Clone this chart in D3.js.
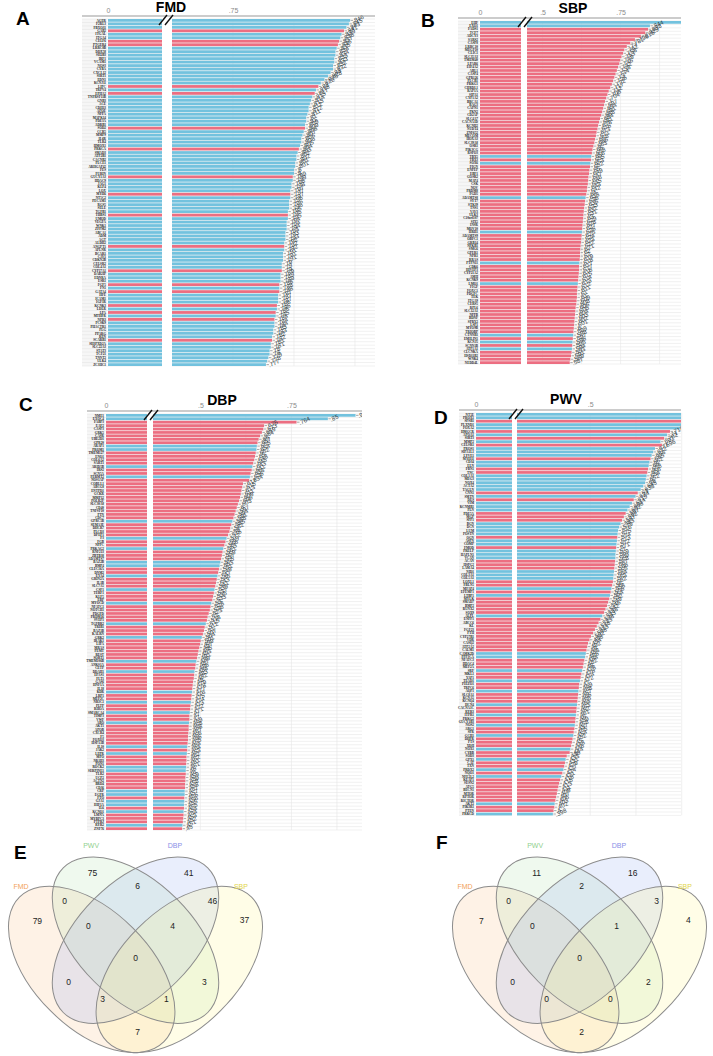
<!DOCTYPE html>
<html><head><meta charset="utf-8">
<script src="https://cdn.jsdelivr.net/npm/d3@7"></script>
<style>
body{margin:0;background:#fff}
svg{display:block}
</style></head><body>
<svg id="fig" width="713" height="1056"></svg>
<script>
// ---------- data: bar panels ----------
var genesA = "AGER F2RL3 FBXO31 GAB2 ITGAL ITGA4 CELF6 PTGER4 LRRC8B DDX58 SH2B3 IRF1 VCAM1 NOS3 CYBA CXCL12 SIRT1 EDN1 KCNJ11 LIPC TRPV4 EPHA2 TNFRSF11B GNB3 ACE CDH13 APOE NPPA MAPK14 PDE3A ADRB1 SOD2 CCR5 MMP9 IL6R TLR4 HMOX1 PRKCA SMAD3 ATP2B1 CACNB2 PLCE1 ARHGAP42 FES FURIN GUCY1A3 HDAC9 JAG1 KLF4 LOX MYH6 NT5C2 PECAM1 RGS5 SELE TGFB1 THBS1 UMOD VEGFA WNK1 ZFPM2 ABCA1 ADM AGT ALDH2 ANGPT1 APLNR BCAR1 CAV1 CDKN2B CELSR2 COL4A1 CYP17A1 DAB2IP EDNRA ESR1 FGF5 FN1 GATA4 HFE ICAM1 IGF1R KCNK3 LDLR LPA MTHFR NPR3 PCSK9 PHACTR1 PLG PPARG REN SCARB1 SH3PXD2A SLC22A3 STAT3 TCF21 TNNT2 ULK4 ZC3HC1".split(" ");
var valuesA = [
  .846,.845,.843,.841,.839,.838,.837,.836,.835,.834,
  .834,.833,.833,.832,.832,.830,.828,.825,.822,.820,
  .818,.817,.815,.814,.813,.812,.812,.811,.810,.810,
  .809,.809,.808,.807,.806,.806,.805,.804,.803,.802,
  .802,.801,.801,.800,.800,.799,.799,.798,.798,.797,
  .797,.797,.796,.796,.796,.795,.795,.795,.794,.794,
  .794,.793,.793,.793,.792,.792,.792,.791,.791,.791,
  .790,.790,.790,.789,.789,.789,.788,.788,.788,.787,
  .787,.787,.786,.786,.785,.785,.784,.784,.784,.783,
  .783,.782,.782,.781,.781,.780,.780,.779,.778,.777];
var colorsA = ("bbbrbbrrbb" + "bbbbbbbbbr" + "brbbbbbbbb" + "brbbbbbrbb" + "bbbbbrbbbb" +
               "rbbbbbrbbb" + "bbbbbrbbbb" + "bbrbbbrbrb" + "bbrbrbrbbb" + "bbrbbbbbbb").split("");

var genesB = "EHF EXO1 FADS1 TCF7 ADCY3 SARS2 CASP8 LRRC10 MEGF10 CLIC1 SLC35A3 TMEM40 LPAR6 EIF4A2 ABL1 CASP4 GPR126 PLCB1 PRKG1 CHRDL1 RAP1A SIPA1 CYP1A2 BRCA1 BAG3 CAPN1 PKN2 CD2AP SLC4A7 CACNA1D KCNH2 NUDT4 ZNF652 MECOM HOXA3 SLC39A8 OSR1 PIK3CG RSPO3 TBX5 TBX3 SOX6 FIGN ENPEP EBF1 GOSR2 MAP4 CSK NOV PRDM8 FGD5 ADAMTS8 SYT7 STK39 TNS1 VAV3 ULK3 C10orf107 SIX5 INSR MOV10 HRH1 ADAMTS9 OBFC1 GRB14 NFKB1 SMG6 GPER1 NPR1 RRAS PTPN11 CDK6 HIVEP3 CYP21A2 AMH KCNK9 LMO1 FIGF FOXC1 PDGFC TEK ITGA9 CERS5 RPL6 SLC12A1 NPPB BDNF SPRY2 LSP1 MYO9B TRIOBP CTNNB1 EMILIN1 KCNJ5 SCNN1B ATP1A1 CLCNKA HSD11B2 WNK4 NEDD4L".split(" ");
var valuesB = [
  .948,.844,.838,.829,.815,.796,.781,.770,.762,.758,
  .753,.749,.746,.742,.738,.734,.730,.726,.722,.717,
  .712,.708,.704,.700,.697,.694,.691,.688,.684,.681,
  .678,.676,.673,.671,.668,.666,.663,.660,.658,.656,
  .655,.653,.652,.650,.649,.647,.646,.645,.643,.642,
  .640,.638,.636,.635,.633,.632,.631,.630,.629,.628,
  .627,.626,.625,.624,.623,.622,.621,.620,.620,.619,
  .618,.617,.617,.616,.615,.614,.613,.612,.611,.610,
  .610,.609,.608,.606,.605,.604,.603,.602,.601,.600,
  .599,.598,.597,.596,.595,.594,.593,.591,.589,.587];
var colorsB = ("bbrrrrrrrr" + "rrrrrrrrrr" + "rrrrrrrrrr" + "rrrrrrrrrb" + "rbrrrrrrrr" +
               "rbrrrrrrrr" + "rbrrrrrrrr" + "brrrrrbrrr" + "rrrrrrrrrr" + "rbrbrbrrrr").split("");

var genesC = "NME1 EXOC4 FABP3 EAF2 CASP3 GRK5 CASR UBE2D1 GPR20 ARAP1 PROM1 TMEM127 ENO1 COL6A2 SART1 ARID5B IRS2 SCN5A FERMT2 NOS1AP COBLL1 ABCG8 ENTPD1 GCKR MMP12 POLR2F SLC30A8 CD40 TNFSF10 PTN CDC7 GPRC5B SEMA3E DHCR7 PLCD3 DPEP1 F3 FGB NPPC PRKAG2 RNF213 ZBTB38 ADAMTS7 BAZ2B BMP4 CLEC16A DNM2 EYA4 GRIN2A IL1B SLC7A5 CSF1 TERF1 KLF5 EBP MYOCD NFATC1 NOTCH1 PDGFD PRDM16 SVEP1 TGFBR2 TRIB1 BAZ1B KALRN GRK2 IRAK1 LIPA MRAS PEMT REST SORT1 TMEM106B ANKS1A CETP DDAH1 EPAS1 FLT1 GAS6 HNF1A IL18 KDR LRP1 MEF2C NR3C1 PLTP RHOA SMARCA4 TIMP3 VWF ABO AKT1 APOB CXCR4 F5 FOXO3 HSPA1B IL10 JAK2 LEPR MPO NR1H3 PON1 ROCK2 SERPINE1 TLR2 UCP2 ACTN2 BRD4 CD36 CRP EGFR FTO GJA1 HIF1A IL6 KCNQ1 LMNA MYBPC3 PTPRJ RYR2 ZNF76".split(" ");
var valuesC = [
  .926,.850,.764,.675,.673,.669,.664,.660,.657,.655,
  .654,.652,.650,.648,.645,.643,.641,.638,.636,.634,
  .617,.615,.613,.611,.609,.606,.603,.600,.597,.594,
  .591,.588,.585,.582,.580,.576,.572,.569,.566,.563,
  .561,.559,.557,.555,.553,.551,.549,.547,.545,.543,
  .541,.539,.537,.535,.533,.530,.528,.526,.523,.520,
  .518,.515,.512,.510,.507,.504,.501,.499,.497,.495,
  .493,.491,.489,.487,.486,.484,.483,.482,.480,.479,
  .478,.477,.476,.475,.474,.473,.472,.471,.470,.470,
  .469,.468,.468,.467,.466,.466,.465,.464,.464,.463,
  .462,.462,.461,.461,.460,.460,.459,.459,.458,.458,
  .457,.457,.456,.456,.455,.455,.454,.454,.453,.452,.451,.450];
var colorsC = ("bbrrrrrrrb" + "brrrrbrrbr" + "rrrrrrrrrr" + "rbrrrrbrrb" + "rrrbbrrbrr" +
               "rbrrrbrrrr" + "rbrrrbrrrr" + "rrbrrbrrrr" + "rbrrbrrbrr" + "brrrrrrbrb" +
               "rrrbbrrrrr" + "bbrbbrbrrr" + "br").split("");

var genesD = "NT5E PROX1 SPSB1 PLXND1 FOXA2 HMGCR APOA1 SIRT3 MMP2 CELSR1 PROS1 SIPA1L1 LYVE1 MYH11 CD34 ELN FBN1 TNC COL1A1 MEG3 NOX4 ACTA2 TAGLN CNN1 SMTN DES VIM KCNMB1 PLN PDE5A MGP SPP1 BGN DCN LUM POSTN OGN ASPN COMP FMOD PRELP HAPLN1 VCAN ACAN HSPG2 LAMA4 NID1 COL3A1 COL5A1 LOXL1 FBLN5 MFAP4 EFEMP1 LTBP1 MYLK SMAD7 BMP2 RUNX2 SOX9 ALPL ENPP1 ABCC6 KL FGF23 PTH CYP27B1 VDR CASQ2 ATP2A2 CALM1 CAMK2D PPP3CA NFATC3 HDAC4 MEF2A SRF MKL1 YAP1 TEAD1 PIEZO1 TRPC6 AQP1 SLC8A1 KCNA5 KCNQ4 HCN4 CACNA1C RYR3 ITPR1 PRKG2 GUCY1B3 NOS2 ARG1 SPR GCH1 DHFR PTS XDH NOX1 CYBB SOD3 GPX1 CAT TXN PRDX2 NQO1 NFE2L2 KEAP1 SESN2 ATG5 BECN1 MTOR RPTOR RICTOR AKT2 PIK3R1 PTEN PRKCD".split(" ");
var valuesD = [
  .912,.874,.853,.801,.745,.718,.710,.702,.692,.696,
  .677,.672,.668,.665,.662,.660,.658,.656,.654,.652,
  .650,.645,.638,.630,.624,.619,.614,.608,.602,.597,
  .592,.587,.583,.579,.576,.575,.574,.573,.572,.571,
  .570,.569,.569,.568,.567,.566,.565,.564,.563,.562,
  .560,.558,.556,.554,.552,.549,.546,.542,.538,.533,
  .528,.523,.518,.513,.508,.502,.498,.494,.492,.490,
  .488,.486,.484,.482,.480,.478,.476,.474,.472,.470,
  .469,.468,.467,.466,.465,.464,.463,.462,.461,.460,
  .459,.458,.457,.455,.454,.452,.450,.448,.446,.444,
  .436,.433,.431,.429,.427,.424,.421,.418,.415,.413,
  .411,.409,.407,.405,.403,.402,.400,.398];
var colorsD = ("bbrbbrbrbr" + "bbbrbbrrbb" + "bbbrbrbbbr" + "rr" + "bb" +
               "bbrbbrbbbr" + "rrbbbrrbrb" + "rrrrrbrrrr" + "rrrrr" +
               "rbbrrrbrrb" + "rrbrrrbrrb" + "rrbrrbrrrb" + "r" +
               "rbrrbrbrrrrrrrbrrb").split("");

var ticksA = [0, 0.75], ticksB = [0, 0.5, 0.75], ticksC = [0, 0.5, 0.75], ticksD = [0, 0.5];
var gridA = [0.75, 0.8, 0.85], gridB = [0.5, 0.625, 0.75, 0.875], gridC = [0.5, 0.625, 0.75, 0.875], gridD = [0.5, 0.625, 0.75];

// ---------- data: venn ----------
var vennSets = ["FMD", "PWV", "DBP", "SBP"];
var vennRegions = ["FMD", "PWV", "DBP", "SBP", "FMD&PWV", "PWV&DBP", "DBP&SBP", "FMD&SBP",
                   "FMD&DBP", "PWV&SBP", "FMD&PWV&DBP", "PWV&DBP&SBP", "FMD&DBP&SBP", "FMD&PWV&SBP", "ALL"];
var vennE = [79, 75, 41, 37, 0, 6, 46, 7, 0, 3, 0, 4, 3, 1, 0];
var vennF = [7, 11, 16, 4, 0, 2, 3, 2, 0, 2, 0, 1, 0, 0, 0];

// ---------- layout ----------
var BLUE = "#73c2de", RED = "#ec6e81";
var FONT = "Liberation Sans, Arial, sans-serif";
var svg = d3.select("#fig");

var panels = [
  {letter: "A", title: "FMD", genes: genesA, values: valuesA, colors: colorsA, ticks: ticksA, grid: gridA,
   lx: 82, x0: 108, bl: 162, br: 172, right: 375, axisY: 16, top: 19, rowH: 3.47,
   domain: [0.70, 0.85], xEnd: 355, letterX: 16, letterY: 25, titleX: 171, titleY: 12},
  {letter: "B", title: "SBP", genes: genesB, values: valuesB, colors: colorsB, ticks: ticksB, grid: gridB,
   lx: 458, x0: 480, bl: 521, br: 527, right: 681, axisY: 18, top: 21, rowH: 3.43,
   domain: [0.45, 0.95], xEnd: 683, letterX: 421, letterY: 27, titleX: 573, titleY: 13},
  {letter: "C", title: "DBP", genes: genesC, values: valuesC, colors: colorsC, ticks: ticksC, grid: gridC,
   lx: 87, x0: 106, bl: 147, br: 153, right: 362, axisY: 411, top: 414, rowH: 3.41,
   domain: [0.37, 0.93], xEnd: 357, letterX: 19, letterY: 411, titleX: 222, titleY: 405},
  {letter: "D", title: "PWV", genes: genesD, values: valuesD, colors: colorsD, ticks: ticksD, grid: gridD,
   lx: 459, x0: 476, bl: 512, br: 517, right: 681, axisY: 410, top: 413, rowH: 3.41,
   domain: [0.30, 0.80], xEnd: 700, letterX: 434, letterY: 424, titleX: 566, titleY: 404}
];

var tickFmt = function(t) { return t === 0 ? "0" : d3.format(".2~f")(t).replace(/^0/, ""); };
var valFmt = function(v) { return d3.format(".3~f")(v).replace(/^0/, ""); };

panels.forEach(function(p, pi) {
  var n = p.values.length;
  var bottom = p.top + n * p.rowH;
  var data = p.values.map(function(v, i) {
    return {gene: p.genes[i] || "", value: v, color: p.colors[i] === "r" ? RED : BLUE, i: i};
  });

  var xL = d3.scaleLinear().domain([0, p.domain[0]]).range([p.x0, p.bl]);
  var xR = d3.scaleLinear().domain(p.domain).range([p.br, p.xEnd]);
  var y = d3.scaleBand().domain(d3.range(n)).range([p.top, bottom]).paddingInner(0.2);

  var g = svg.append("g");
  var clipId = "clip" + pi;
  svg.append("clipPath").attr("id", clipId)
    .append("rect").attr("x", p.lx).attr("y", p.axisY - 12).attr("width", p.right - p.lx).attr("height", bottom - p.axisY + 14);

  // label column background
  g.append("rect").attr("x", p.lx).attr("y", p.top).attr("width", p.x0 - p.lx - 1).attr("height", bottom - p.top)
    .attr("fill", "#f6f6f6");

  // row separators
  g.append("g").selectAll("line").data(d3.range(n + 1)).join("line")
    .attr("x1", p.lx).attr("x2", p.right)
    .attr("y1", function(i) { return p.top + i * p.rowH; })
    .attr("y2", function(i) { return p.top + i * p.rowH; })
    .attr("stroke", "#e2e2e2").attr("stroke-width", 0.5);

  // vertical grid
  g.append("g").selectAll("line").data(p.grid).join("line")
    .attr("x1", function(d) { return xR(d); }).attr("x2", function(d) { return xR(d); })
    .attr("y1", p.top).attr("y2", bottom)
    .attr("stroke", "#e6e6e6").attr("stroke-width", 0.6);

  var bars = g.append("g").attr("clip-path", "url(#" + clipId + ")");
  // left piece (before the break)
  bars.selectAll("rect.l").data(data).join("rect").attr("class", "l")
    .attr("x", xL(0))
    .attr("y", function(d) { return y(d.i); })
    .attr("width", function(d) { return xL(Math.min(d.value, p.domain[0])) - xL(0); })
    .attr("height", y.bandwidth())
    .attr("fill", function(d) { return d.color; });
  // right piece (after the break)
  bars.selectAll("rect.r").data(data).join("rect").attr("class", "r")
    .attr("x", xR(p.domain[0]))
    .attr("y", function(d) { return y(d.i); })
    .attr("width", function(d) { return Math.max(0, xR(d.value) - xR(p.domain[0])); })
    .attr("height", y.bandwidth())
    .attr("fill", function(d) { return d.color; });

  // white gap of the axis break
  g.append("rect").attr("x", p.bl).attr("y", p.axisY + 1).attr("width", p.br - p.bl).attr("height", bottom - p.axisY)
    .attr("fill", "#fff");

  // value labels with a small leader
  bars.selectAll("line.v").data(data).join("line").attr("class", "v")
    .attr("x1", function(d) { return xR(d.value) + 0.5; })
    .attr("x2", function(d) { return xR(d.value) + 3; })
    .attr("y1", function(d) { return y(d.i) + y.bandwidth() / 2; })
    .attr("y2", function(d) { return y(d.i) + y.bandwidth() / 2; })
    .attr("stroke", "#555").attr("stroke-width", 0.5);
  bars.selectAll("text.v").data(data).join("text").attr("class", "v")
    .attr("transform", function(d) {
      return "translate(" + (xR(d.value) + 3.5) + "," + (y(d.i) + y.bandwidth() + 1.5) + ") rotate(-25)";
    })
    .attr("font-family", FONT)
    .attr("font-size", 6)
    .attr("fill", "#2f3b40")
    .text(function(d) { return valFmt(d.value); });

  // gene labels
  g.append("g").selectAll("text").data(data).join("text")
    .attr("x", p.x0 - 2)
    .attr("y", function(d) { return y(d.i) + y.bandwidth() - 0.2; })
    .attr("text-anchor", "end")
    .attr("font-family", "Liberation Serif, serif")
    .attr("font-weight", "bold")
    .attr("font-size", 3.3)
    .attr("fill", "#222")
    .text(function(d) { return d.gene; });

  // axis line + ticks
  g.append("line").attr("x1", p.lx).attr("x2", p.right).attr("y1", p.axisY).attr("y2", p.axisY)
    .attr("stroke", "#9a9a9a").attr("stroke-width", 1.2);
  var axL = g.append("g").attr("transform", "translate(0," + p.axisY + ")")
    .call(d3.axisTop(xL).tickValues(p.ticks.filter(function(t) { return t <= p.domain[0]; })).tickSize(0).tickPadding(3).tickFormat(tickFmt));
  var axR = g.append("g").attr("transform", "translate(0," + p.axisY + ")")
    .call(d3.axisTop(xR).tickValues(p.ticks.filter(function(t) { return t > p.domain[0]; })).tickSize(0).tickPadding(3).tickFormat(tickFmt));
  [axL, axR].forEach(function(ax) {
    ax.select(".domain").remove();
    ax.selectAll("text").attr("font-family", FONT).attr("font-size", 7).attr("fill", "#8a8a8a");
  });

  // break marks
  g.append("g").selectAll("line").data([0, 6]).join("line")
    .attr("x1", function(o) { return p.bl - 3 + o; }).attr("y1", p.axisY + 9)
    .attr("x2", function(o) { return p.bl + 5 + o; }).attr("y2", p.axisY - 1)
    .attr("stroke", "#111").attr("stroke-width", 1.4);

  // letter and title
  svg.append("text").attr("x", p.letterX).attr("y", p.letterY).text(p.letter)
    .attr("font-family", FONT).attr("font-weight", "bold").attr("font-size", 19);
  svg.append("text").attr("x", p.titleX).attr("y", p.titleY).attr("text-anchor", "middle").text(p.title)
    .attr("font-family", FONT).attr("font-weight", "bold").attr("font-size", 14);
});

// ---------- venn diagrams ----------
var ellipses = [
  {set: "FMD", u: 0.35, v: 0.47, rot: 45, fill: "#f8bc80", label: "#f2a35a", lu: 0.108, lv: 0.756},
  {set: "PWV", u: 0.50, v: 0.57, rot: 45, fill: "#b0e0a8", label: "#92d08e", lu: 0.348, lv: 0.896},
  {set: "DBP", u: 0.50, v: 0.57, rot: -45, fill: "#93acf0", label: "#8a8fe6", lu: 0.635, lv: 0.896},
  {set: "SBP", u: 0.65, v: 0.47, rot: -45, fill: "#fff385", label: "#e2d446", lu: 0.861, lv: 0.756}
];
var regionPos = {
  "PWV": [0.353, 0.800], "DBP": [0.682, 0.800], "PWV&DBP": [0.507, 0.756],
  "FMD&PWV": [0.257, 0.704], "DBP&SBP": [0.764, 0.704], "FMD": [0.164, 0.636], "SBP": [0.873, 0.639],
  "FMD&PWV&DBP": [0.339, 0.619], "PWV&DBP&SBP": [0.627, 0.619], "ALL": [0.5, 0.509],
  "FMD&DBP": [0.271, 0.427], "PWV&SBP": [0.736, 0.427], "FMD&DBP&SBP": [0.387, 0.369],
  "FMD&PWV&SBP": [0.606, 0.369], "FMD&SBP": [0.507, 0.256]
};

function drawVenn(cx, counts, letter, letterX, letterY) {
  var s = 292;
  var vx = d3.scaleLinear().domain([0, 1]).range([cx - s / 2, cx + s / 2]);
  var vy = d3.scaleLinear().domain([0, 1]).range([857 + 0.855 * s, 857 - 0.145 * s]);
  var g = svg.append("g");

  g.selectAll("ellipse.f").data(ellipses).join("ellipse").attr("class", "f")
    .attr("transform", function(e) { return "translate(" + vx(e.u) + "," + vy(e.v) + ") rotate(" + e.rot + ")"; })
    .attr("rx", 0.35 * s).attr("ry", 0.2 * s)
    .attr("fill", function(e) { return e.fill; }).attr("fill-opacity", 0.2).attr("stroke", "none");
  g.selectAll("ellipse.o").data(ellipses).join("ellipse").attr("class", "o")
    .attr("transform", function(e) { return "translate(" + vx(e.u) + "," + vy(e.v) + ") rotate(" + e.rot + ")"; })
    .attr("rx", 0.35 * s).attr("ry", 0.2 * s)
    .attr("fill", "none").attr("stroke", "#8c8c8c").attr("stroke-width", 1);

  g.selectAll("text.n").data(vennRegions).join("text").attr("class", "n")
    .attr("x", function(r) { return vx(regionPos[r][0]); })
    .attr("y", function(r) { return vy(regionPos[r][1]) + 3; })
    .attr("text-anchor", "middle")
    .attr("font-family", FONT).attr("font-size", 8.5).attr("fill", "#222")
    .text(function(r, i) { return counts[i]; });

  g.selectAll("text.c").data(ellipses).join("text").attr("class", "c")
    .attr("x", function(e) { return vx(e.lu); })
    .attr("y", function(e) { return vy(e.lv) + 3; })
    .attr("text-anchor", "middle")
    .attr("font-family", FONT).attr("font-size", 7)
    .attr("fill", function(e) { return e.label; })
    .text(function(e) { return e.set; });

  svg.append("text").attr("x", letterX).attr("y", letterY).text(letter)
    .attr("font-family", FONT).attr("font-weight", "bold").attr("font-size", 19);
}

drawVenn(135.5, vennE, "E", 14, 859);
drawVenn(579.5, vennF, "F", 436, 849);
</script>
</body></html>
